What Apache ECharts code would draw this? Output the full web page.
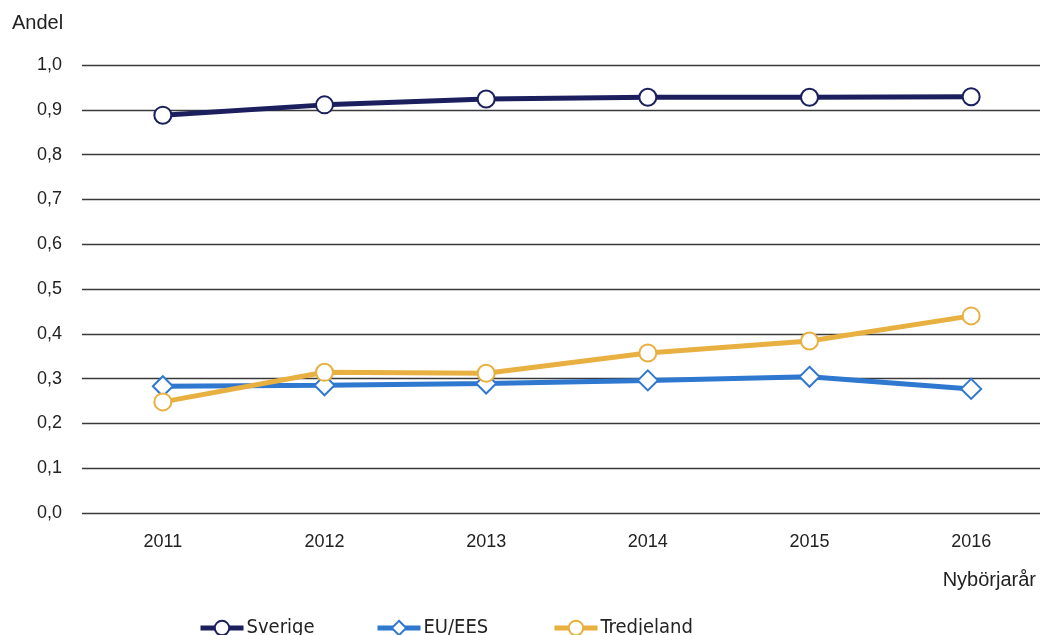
<!DOCTYPE html>
<html>
<head>
<meta charset="utf-8">
<script src="https://cdn.jsdelivr.net/npm/echarts@6/dist/echarts.min.js"></script>
<style>
  html, body { margin: 0; padding: 0; background: #fff; overflow: hidden; }
  #chart { width: 1040px; height: 635px; }
</style>
</head>
<body>
<div id="chart"></div>
<script>
// data
var years = ["2011", "2012", "2013", "2014", "2015", "2016"];
var sverige = [0.888, 0.911, 0.924, 0.928, 0.928, 0.929];
var euees = [0.283, 0.285, 0.289, 0.296, 0.304, 0.277];
var tredjeland = [0.248, 0.314, 0.312, 0.357, 0.384, 0.440];
var seriesNames = ["Sverige", "EU/EES", "Tredjeland"];

var font = "Liberation Sans";
var colors = { sverige: "#1b1f5e", euees: "#2f78d0", tredjeland: "#e8b040" };

function lineSeries(name, data, color, symbol) {
  return {
    name: name,
    type: "line",
    data: data,
    symbol: symbol,
    symbolSize: symbol === "diamond" ? 20 : 17,
    showAllSymbol: true,
    lineStyle: { color: color, width: 5 },
    itemStyle: { color: "#fff", borderColor: color, borderWidth: 2 },
    emphasis: { disabled: true },
    z: 3
  };
}

// one legend per item so each sits where the reference puts it
function legendAt(name, left) {
  return {
    top: 613,
    left: left,
    itemWidth: 43,
    itemHeight: 18,
    lineStyle: { width: 5 },
    textStyle: {
      fontFamily: "DejaVu Sans Condensed",
      fontSize: 20,
      color: "#222",
      padding: [3, 0, 0, -2]
    },
    data: [name]
  };
}

var myChart = echarts.init(document.getElementById("chart"));
myChart.setOption({
  animation: false,
  textStyle: { fontFamily: font },
  grid: { left: 82, right: -12, top: 65, bottom: 122, outerBoundsMode: "none", containLabel: false },
  legend: [
    legendAt(seriesNames[0], 193),
    legendAt(seriesNames[1], 370),
    legendAt(seriesNames[2], 547)
  ],
  xAxis: {
    type: "category",
    data: years,
    boundaryGap: true,
    axisLine: { show: false },
    axisTick: { show: false },
    axisLabel: { fontSize: 18, color: "#222", margin: 20 }
  },
  yAxis: {
    type: "value",
    min: 0,
    max: 1,
    interval: 0.1,
    axisLine: { show: false },
    axisTick: { show: false },
    splitLine: { lineStyle: { color: "#3a3a3a", width: 1.3 } },
    axisLabel: {
      fontSize: 18,
      color: "#222",
      margin: 20,
      formatter: function (v) { return v.toFixed(1).replace(".", ","); }
    }
  },
  graphic: [
    { type: "text", left: 12, top: 13, style: { text: "Andel", font: "20px " + font, fill: "#222" } },
    { type: "text", right: 4, top: 570, style: { text: "Nybörjarår", font: "20px " + font, fill: "#222" } }
  ],
  series: [
    lineSeries(seriesNames[0], sverige, colors.sverige, "circle"),
    lineSeries(seriesNames[1], euees, colors.euees, "diamond"),
    lineSeries(seriesNames[2], tredjeland, colors.tredjeland, "circle")
  ]
});
</script>
</body>
</html>
